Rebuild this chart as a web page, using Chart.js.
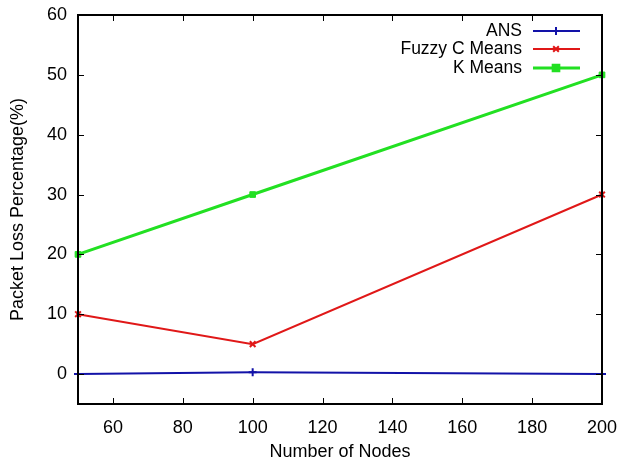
<!DOCTYPE html>
<html>
<head>
<meta charset="utf-8">
<script src="https://cdn.jsdelivr.net/npm/chart.js@4"></script>
<style>
html,body{margin:0;padding:0;background:#fff;}
#wrap{width:619px;height:463px;position:relative;}
</style>
</head>
<body>
<div id="wrap"><canvas id="c" width="619" height="463"></canvas></div>
<script>
const nodes = [50, 100, 200];
const ansLoss = [0, 0.3, 0];
const fuzzyLoss = [10, 5, 30];
const kmeansLoss = [20, 30, 50];
const xTickValues = [60, 80, 100, 120, 140, 160, 180, 200];
const yTickValues = [0, 10, 20, 30, 40, 50, 60];
const seriesNames = ['ANS', 'Fuzzy C Means', 'K Means'];

const FONT = '"Liberation Sans", Arial, sans-serif';

const framePlugin = {
  id: 'frame',
  afterDraw(chart) {
    const ctx = chart.ctx;
    const a = chart.chartArea;
    const xs = chart.scales.x, ys = chart.scales.y;
    ctx.save();
    ctx.strokeStyle = '#000';
    ctx.lineWidth = 1;
    ctx.beginPath();
    xTickValues.forEach(v => {
      const px = Math.round(xs.getPixelForValue(v)) + 0.5;
      ctx.moveTo(px, a.bottom); ctx.lineTo(px, a.bottom - 6);
      ctx.moveTo(px, a.top); ctx.lineTo(px, a.top + 6);
    });
    yTickValues.forEach(v => {
      const py = Math.round(ys.getPixelForValue(v)) + 0.5;
      ctx.moveTo(a.left, py); ctx.lineTo(a.left + 6, py);
      ctx.moveTo(a.right, py); ctx.lineTo(a.right - 6, py);
    });
    ctx.stroke();
    ctx.lineWidth = 2;
    ctx.strokeRect(a.left, a.top, a.right - a.left, a.bottom - a.top);
    // legend
    ctx.font = '17.5px ' + FONT;
    ctx.textAlign = 'right';
    ctx.textBaseline = 'middle';
    const rows = [31, 49, 68];
    chart.data.datasets.forEach((ds, i) => {
      const y = rows[i];
      ctx.fillStyle = '#000';
      ctx.fillText(ds.label, 522, y);
      ctx.strokeStyle = ds.borderColor;
      ctx.fillStyle = ds.backgroundColor;
      ctx.lineWidth = ds.borderWidth;
      ctx.beginPath();
      ctx.moveTo(533, y); ctx.lineTo(580, y);
      ctx.stroke();
      Chart.helpers.drawPoint(ctx, {
        pointStyle: ds.pointStyle, radius: ds.pointRadius, borderWidth: ds.pointBorderWidth, rotation: 0
      }, 556, y);
    });
    ctx.restore();
  }
};

new Chart(document.getElementById('c'), {
  type: 'line',
  data: {
    labels: nodes,
    datasets: [
      {
        label: seriesNames[0],
        data: nodes.map((n, i) => ({x: n, y: ansLoss[i]})),
        borderColor: '#1212a8', backgroundColor: '#1212a8',
        borderWidth: 2, pointStyle: 'cross', pointRadius: 4, pointBorderWidth: 2,
        tension: 0, clip: false
      },
      {
        label: seriesNames[1],
        data: nodes.map((n, i) => ({x: n, y: fuzzyLoss[i]})),
        borderColor: '#e01818', backgroundColor: '#e01818',
        borderWidth: 2, pointStyle: 'crossRot', pointRadius: 4, pointBorderWidth: 2,
        tension: 0, clip: false
      },
      {
        label: seriesNames[2],
        data: nodes.map((n, i) => ({x: n, y: kmeansLoss[i]})),
        borderColor: '#22e022', backgroundColor: '#22e022',
        borderWidth: 3, pointStyle: 'rect', pointRadius: 4, pointBorderWidth: 1,
        tension: 0, clip: false
      }
    ]
  },
  options: {
    responsive: false,
    animation: false,
    devicePixelRatio: 1,
    layout: {padding: {top: 15, right: 17, left: 0, bottom: 0}},
    plugins: {legend: {display: false}, tooltip: {enabled: false}},
    scales: {
      x: {
        type: 'linear', min: 50, max: 200,
        grid: {display: false, drawTicks: false},
        border: {display: false},
        afterBuildTicks: s => { s.ticks = xTickValues.map(v => ({value: v})); },
        afterFit: s => { s.height = 59; s.paddingLeft = 0; s.paddingRight = 0; },
        ticks: {color: '#000', font: {family: FONT, size: 18}, padding: 13, maxRotation: 0, autoSkip: false},
        title: {display: true, text: 'Number of Nodes', color: '#000', font: {family: FONT, size: 18}, padding: {top: 4, bottom: 0}}
      },
      y: {
        type: 'linear', min: -5, max: 60,
        grid: {display: false, drawTicks: false},
        border: {display: false},
        afterBuildTicks: s => { s.ticks = yTickValues.map(v => ({value: v})); },
        afterFit: s => { s.width = 78; s.paddingTop = 0; s.paddingBottom = 0; },
        ticks: {color: '#000', font: {family: FONT, size: 18}, padding: 11, autoSkip: false},
        title: {display: true, text: 'Packet Loss Percentage(%)', color: '#000', font: {family: FONT, size: 18}, padding: {top: 7, bottom: 0}}
      }
    }
  },
  plugins: [framePlugin]
});
</script>
</body>
</html>
